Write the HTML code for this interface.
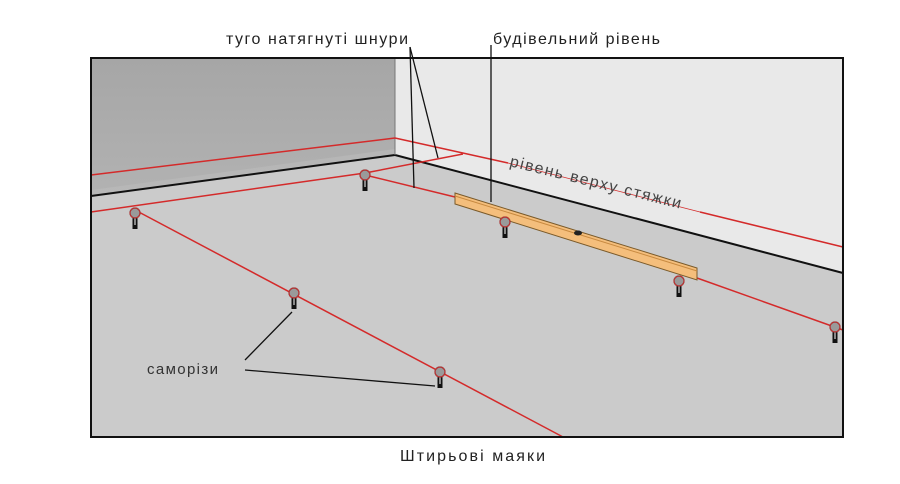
<!DOCTYPE html>
<html><head><meta charset="utf-8"><style>
html,body{margin:0;padding:0;background:#fff;width:900px;height:484px;overflow:hidden}
text{font-family:"Liberation Sans","DejaVu Sans",sans-serif}
</style></head><body>
<svg width="900" height="484" viewBox="0 0 900 484" xmlns="http://www.w3.org/2000/svg">
<defs>
<linearGradient id="lw" x1="0" y1="0" x2="0" y2="1">
<stop offset="0" stop-color="#a6a6a6"/><stop offset="1" stop-color="#b2b2b2"/>
</linearGradient>
<g id="pin">
<rect x="-2.5" y="2" width="5" height="14" fill="#111"/>
<rect x="-1" y="4" width="2" height="8" fill="#888"/>
<circle cx="0" cy="0" r="5" fill="#9a9a9a" stroke="#333" stroke-width="1.2"/>
<circle cx="0" cy="0" r="5" fill="none" stroke="#c33" stroke-width="1"/>
</g>
</defs>
<rect x="91" y="58" width="752" height="379" fill="#cbcbcb"/>
<polygon points="395,58 843,58 843,273 395,155" fill="#e9e9e9"/>
<polygon points="91,58 395,58 395,155 91,196" fill="url(#lw)"/>
<polygon points="395,155 91,196 91,190 395,149" fill="#bdbdbd" opacity="0.5"/>
<line x1="91" y1="196" x2="395" y2="155" stroke="#111" stroke-width="2"/>
<line x1="395" y1="155" x2="843" y2="273" stroke="#111" stroke-width="2"/>
<line x1="395" y1="58" x2="395" y2="155" stroke="#777" stroke-width="1"/>
<g stroke="#d42a2a" stroke-width="1.5" fill="none">
<line x1="91" y1="175" x2="395" y2="138"/>
<line x1="395" y1="138" x2="508" y2="163"/>
<line x1="508" y1="163" x2="700" y2="212" stroke-width="0.7"/>
<line x1="700" y1="212" x2="843" y2="247"/>
<line x1="91" y1="212" x2="365" y2="173"/>
<line x1="365" y1="173" x2="463" y2="154"/>
<line x1="365" y1="175" x2="455" y2="197"/>
<line x1="697" y1="278" x2="843" y2="330"/>
<line x1="135" y1="210" x2="563" y2="437"/>
</g>
<polygon points="455,193 697,268 697,280 455,204" fill="#f4be7c" stroke="#7a5a2a" stroke-width="1"/>
<line x1="455" y1="196" x2="697" y2="271" stroke="#c88a40" stroke-width="1"/>
<ellipse cx="578" cy="233" rx="4" ry="2.5" fill="#222"/>
<use href="#pin" x="135" y="213"/>
<use href="#pin" x="365" y="175"/>
<use href="#pin" x="505" y="222"/>
<use href="#pin" x="294" y="293"/>
<use href="#pin" x="440" y="372"/>
<use href="#pin" x="679" y="281"/>
<use href="#pin" x="835" y="327"/>
<rect x="91" y="58" width="752" height="379" fill="none" stroke="#111" stroke-width="2"/>
<g stroke="#111" stroke-width="1.3">
<line x1="410" y1="47" x2="414" y2="188"/>
<line x1="410" y1="47" x2="438" y2="158"/>
<line x1="491" y1="45" x2="491" y2="202"/>
<line x1="245" y1="360" x2="292" y2="312"/>
<line x1="245" y1="370" x2="435" y2="386"/>
</g>
<text x="226" y="44" font-size="16" fill="#222" textLength="182" lengthAdjust="spacing">туго натягнуті шнури</text>
<text x="493" y="44" font-size="16" fill="#222" textLength="167" lengthAdjust="spacing">будівельний рівень</text>
<text x="0" y="0" font-size="16" fill="#444" textLength="176" lengthAdjust="spacing" transform="translate(509,166) rotate(14)">рівень верху стяжки</text>
<text x="147" y="374" font-size="15" fill="#333" textLength="71" lengthAdjust="spacing">саморізи</text>
<text x="400" y="461" font-size="16" fill="#222" textLength="145" lengthAdjust="spacing">Штирьові маяки</text>
</svg>
</body></html>
